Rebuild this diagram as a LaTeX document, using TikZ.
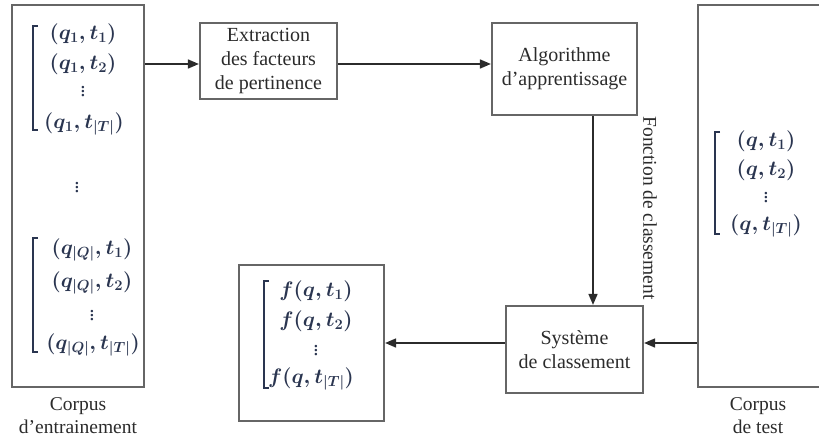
\RequirePackage{fix-cm}
\documentclass[tikz,border=0pt]{standalone}
\usepackage{fontspec}
\setmainfont{Liberation Serif}
\usetikzlibrary{arrows.meta}
\definecolor{boxline}{HTML}{666666}
\definecolor{ink}{HTML}{2B2B2B}
\definecolor{mathink}{HTML}{2A3550}
\begin{document}
\begin{tikzpicture}[x=1pt,y=-1pt,
  box/.style={draw=boxline,line width=2.2pt,inner sep=0pt,align=center,
    font=\fontsize{20}{24}\selectfont,text=ink},
  arr/.style={draw=ink,line width=1.6pt,-{Triangle[length=11pt,width=9pt]}},
  lbl/.style={align=center,font=\fontsize{19.5}{23}\selectfont,text=ink},
  mat/.style={text=mathink,inner sep=0pt,font=\fontsize{21}{24}\selectfont\boldmath},
  brk/.style={draw=mathink,line width=1.3pt}]
\useasboundingbox (0,0) rectangle (819,441);

% corpora and processing blocks
\node[box,minimum width=132pt,minimum height=382pt] (train) at (78,196) {};
\node[box,minimum width=142pt,minimum height=382pt] (test) at (769,196) {};
\node[box,minimum width=137pt,minimum height=76pt] (ext) at (268.5,61)
  {Extraction\\des facteurs\\de pertinence};
\node[box,minimum width=145pt,minimum height=92pt] (alg) at (564.5,69)
  {Algorithme\\d’apprentissage};
\node[box,minimum width=137pt,minimum height=87pt] (sys) at (574.5,349.5)
  {Système\\de classement};
\node[box,minimum width=145pt,minimum height=156pt] (out) at (311.5,343) {};

% training pairs, first query
\draw[brk] (38,26) -- (33,26) -- (33,130) -- (38,130);
\node[mat] (a1) at (83,34)  {$(q_1,t_1)$};
\node[mat] (a2) at (83,64)  {$(q_1,t_2)$};
\node[mat] (a3) at (83,89)  {$\vdots$};
\node[mat] (a4) at (84,124) {$(q_1,t_{|T|})$};
\node[mat] (mid) at (77,185) {$\vdots$};

% training pairs, last query
\draw[brk] (38,238) -- (33,238) -- (33,352) -- (38,352);
\node[mat] (b1) at (92,250) {$(q_{|Q|},t_1)$};
\node[mat] (b2) at (92,283) {$(q_{|Q|},t_2)$};
\node[mat] (b3) at (92,313) {$\vdots$};
\node[mat] (b4) at (93,345) {$(q_{|Q|},t_{|T|})$};

% test pairs
\draw[brk] (720,132) -- (715,132) -- (715,234) -- (720,234);
\node[mat] (c1) at (766,141) {$(q,t_1)$};
\node[mat] (c2) at (766,170) {$(q,t_2)$};
\node[mat] (c3) at (766,195) {$\vdots$};
\node[mat] (c4) at (766,226) {$(q,t_{|T|})$};

% scores
\draw[brk] (269,281) -- (264,281) -- (264,388) -- (269,388);
\node[mat] (d1) at (316,291) {$f(q,t_1)$};
\node[mat] (d2) at (316,321) {$f(q,t_2)$};
\node[mat] (d3) at (316,348) {$\vdots$};
\node[mat] (d4) at (311,379) {$f(q,t_{|T|})$};

% captions
\node[lbl] at (train.south |- 0,416) {Corpus\\d’entrainement};
\node[lbl] at (758,416) {Corpus\\de test};

% flow
\draw[arr] (train.east |- 0,64) -- (ext.west |- 0,64);
\draw[arr] (ext.east |- 0,64) -- (alg.west |- 0,64);
\draw[arr] (alg.south -| 593,0) -- (sys.north -| 593,0);
\node[lbl,rotate=-90] at (650,208) {Fonction de classement};
\draw[arr] (test.west |- 0,343) -- (sys.east |- 0,343);
\draw[arr] (sys.west |- 0,343) -- (out.east |- 0,343);
\end{tikzpicture}
\end{document}
